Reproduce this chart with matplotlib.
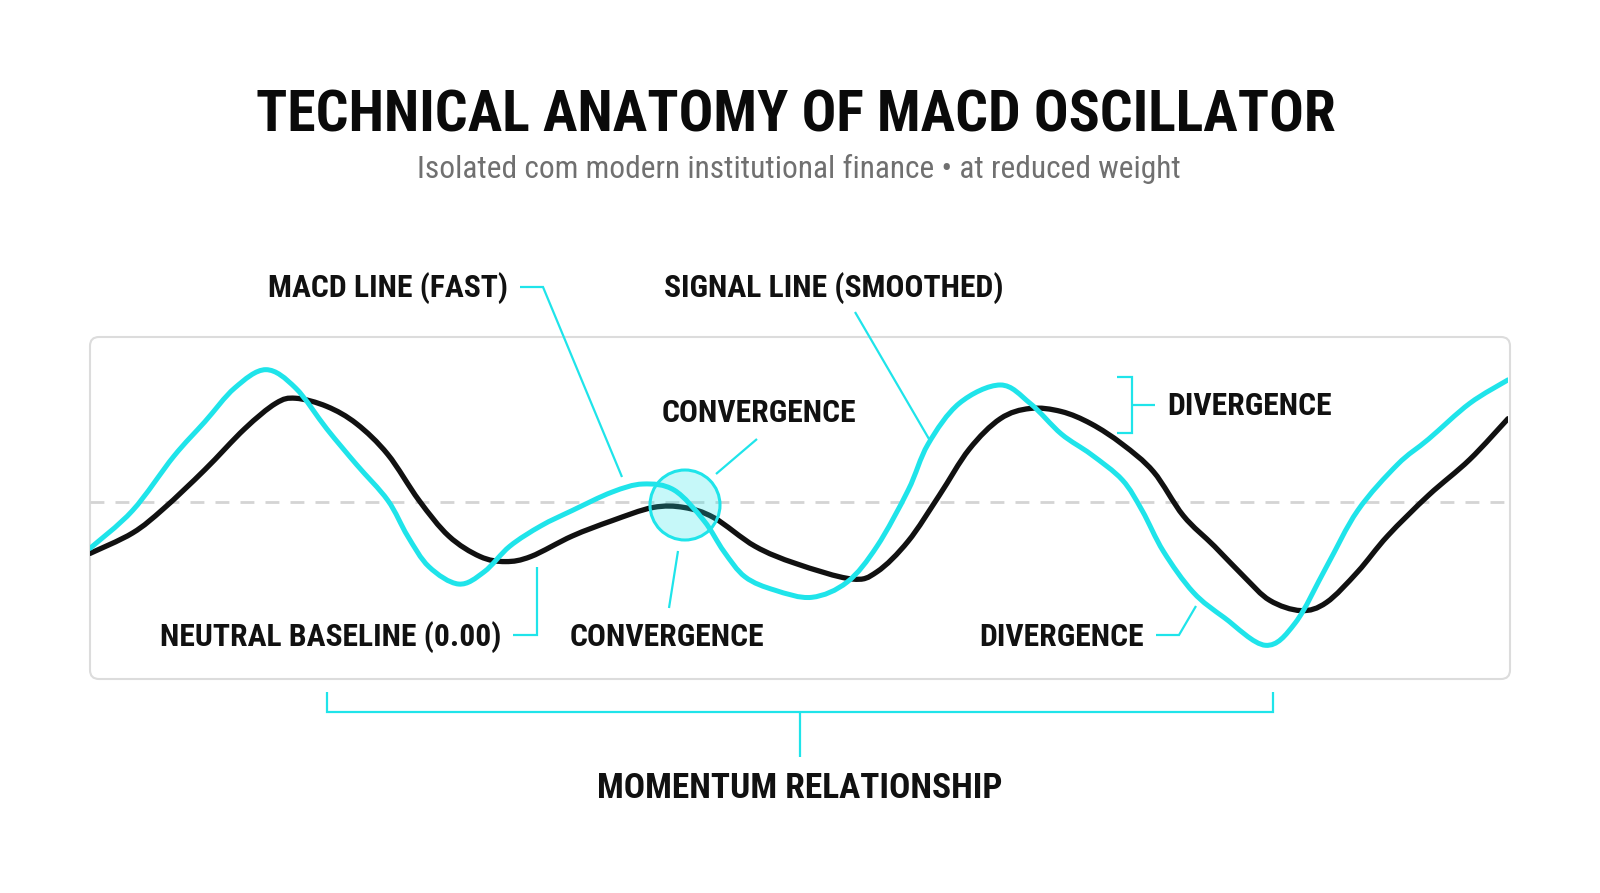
import numpy as np
import matplotlib
matplotlib.use("Agg")
import matplotlib.pyplot as plt
from matplotlib import font_manager as fm
from matplotlib.path import Path
from matplotlib.patches import PathPatch, FancyBboxPatch, Circle

# ---------------- data ----------------
t_macd = [0, 3.0, 5.9, 8.1, 10.2, 12.4, 14.5, 16.7, 18.8, 21.0, 22.4, 23.9, 26.0, 27.8,
          29.6, 31.8, 34.0, 36.8, 39.0, 41.2, 43.3, 44.7, 46.2, 48.3, 50.9, 53.4, 55.5,
          57.7, 59.1, 61.3, 64.2, 66.3, 68.5, 70.6, 72.8, 74.2, 75.7, 77.8, 80.0, 82.9,
          85.0, 87.2, 89.4, 92.2, 94.4, 97.3, 100]
v_macd = [-0.45, -0.08, 0.45, 0.79, 1.12, 1.30, 1.12, 0.72, 0.37, 0.02, -0.33, -0.63,
          -0.80, -0.68, -0.43, -0.23, -0.08, 0.10, 0.18, 0.12, -0.18, -0.48, -0.73, -0.86,
          -0.93, -0.78, -0.43, 0.12, 0.57, 0.97, 1.15, 0.97, 0.67, 0.47, 0.22, -0.08,
          -0.48, -0.88, -1.13, -1.40, -1.18, -0.63, -0.08, 0.37, 0.62, 0.97, 1.20]

t_signal = [0, 3.0, 5.2, 8.1, 10.9, 13.1, 14.5, 16.7, 18.8, 21.0, 23.2, 25.3, 27.5, 29.3,
            31.1, 34.0, 36.8, 39.7, 41.9, 44.0, 46.9, 49.8, 53.7, 55.5, 57.7, 59.9, 62.0,
            64.2, 66.3, 68.5, 70.6, 72.8, 75.0, 77.1, 79.3, 81.4, 83.2, 85.4, 87.2, 89.4,
            91.5, 94.4, 97.3, 100]
v_signal = [-0.50, -0.30, -0.06, 0.32, 0.72, 0.97, 1.02, 0.94, 0.77, 0.47, 0.02, -0.33,
            -0.53, -0.58, -0.53, -0.33, -0.18, -0.05, -0.05, -0.15, -0.43, -0.60, -0.75,
            -0.68, -0.38, 0.07, 0.52, 0.82, 0.92, 0.89, 0.77, 0.57, 0.30, -0.13, -0.43,
            -0.73, -0.96, -1.06, -0.98, -0.68, -0.33, 0.07, 0.42, 0.82]

baseline_value = 0.0

title = "TECHNICAL ANATOMY OF MACD OSCILLATOR"
subtitle = "Isolated com modern institutional finance \u2022 at reduced weight"
label_macd = "MACD LINE (FAST)"
label_signal = "SIGNAL LINE (SMOOTHED)"
label_conv = "CONVERGENCE"
label_base = "NEUTRAL BASELINE (0.00)"
label_div = "DIVERGENCE"
label_momentum = "MOMENTUM RELATIONSHIP"

# ---------------- style ----------------
CYAN = "#1FE4EA"
BLACK = "#111111"
names = {f.name for f in fm.fontManager.ttflist}
COND = "Roboto Condensed" if "Roboto Condensed" in names else "Roboto"
FAM = [COND, "DejaVu Sans"]

W, H = 1600, 893
fig = plt.figure(figsize=(W / 100, H / 100), dpi=100)
fig.patch.set_facecolor("white")

# background overlay (pixel coordinates)
bg = fig.add_axes([0, 0, 1, 1], zorder=0)
bg.set_xlim(0, W); bg.set_ylim(H, 0); bg.axis("off")
PX0, PX1, PY0, PY1 = 90, 1510, 337, 679
bg.add_patch(FancyBboxPatch((PX0, PY0), PX1 - PX0, PY1 - PY0,
                            boxstyle="round,pad=0,rounding_size=9",
                            fc="white", ec="#DCDCDC", lw=1.5))

# data axes
ax = fig.add_axes([90 / W, 1 - 679 / H, (1508 - 90) / W, (679 - 337) / H], zorder=1)
ax.patch.set_alpha(0)
ax.set_xlim(0, 100)
ax.set_ylim(-1.73, 1.62)
ax.axis("off")


def smooth_path(x, y):
    x = np.asarray(x, float); y = np.asarray(y, float)
    verts = [(x[0], y[0])]
    codes = [Path.MOVETO]
    n = len(x)
    for i in range(n - 1):
        p0 = (x[max(i - 1, 0)], y[max(i - 1, 0)])
        p1 = (x[i], y[i]); p2 = (x[i + 1], y[i + 1])
        p3 = (x[min(i + 2, n - 1)], y[min(i + 2, n - 1)])
        c1 = (p1[0] + (p2[0] - p0[0]) / 6, p1[1] + (p2[1] - p0[1]) / 6)
        c2 = (p2[0] - (p3[0] - p1[0]) / 6, p2[1] - (p3[1] - p1[1]) / 6)
        verts += [c1, c2, p2]
        codes += [Path.CURVE4] * 3
    return Path(verts, codes)


ax.axhline(baseline_value, color="#D4D4D4", lw=2, dashes=(5, 4), zorder=1)
ax.add_patch(PathPatch(smooth_path(t_signal, v_signal), fc="none", ec=BLACK, lw=3.8,
                       capstyle="round", joinstyle="round", zorder=2))
ax.add_patch(PathPatch(smooth_path(t_macd, v_macd), fc="none", ec=CYAN, lw=3.6,
                       capstyle="round", joinstyle="round", zorder=3))

# foreground overlay (pixel coordinates)
fg = fig.add_axes([0, 0, 1, 1], zorder=2)
fg.patch.set_alpha(0)
fg.set_xlim(0, W); fg.set_ylim(H, 0); fg.axis("off")

fg.add_patch(Circle((685, 505), 35, fc=CYAN, alpha=0.25, ec="none"))
fg.add_patch(Circle((685, 505), 35, fc="none", ec=CYAN, lw=2.2))

LW = 1.6


def leader(xs, ys):
    fg.plot(xs, ys, color=CYAN, lw=LW, solid_capstyle="butt", solid_joinstyle="miter")


leader([520, 543, 622], [287, 287, 477])
leader([855, 929], [312, 439])
leader([757, 716], [439, 474])
leader([669, 678], [608, 551])
leader([513, 537, 537], [635, 635, 567])
leader([1156, 1179, 1196], [635, 635, 606])
# right bracket
leader([1117, 1132, 1132, 1117], [377, 377, 433, 433])
leader([1132, 1155], [405, 405])
# bottom bracket
leader([327, 327, 1273, 1273], [692, 712, 712, 692])
leader([800, 800], [712, 757])

# texts
fg.text(796, 132, title, ha="center", va="baseline", fontsize=41.5, fontweight="bold",
        family=FAM, color="#0A0A0A")
fg.text(799, 178, subtitle, ha="center", va="baseline", fontsize=22.7, fontweight="normal",
        family=FAM, color="#707070")

LS = 22.8
kw = dict(va="baseline", fontweight="bold", family=FAM, color="#111111")
fg.text(508, 297, label_macd, ha="right", fontsize=LS, **kw)
fg.text(664, 297, label_signal, ha="left", fontsize=LS, **kw)
fg.text(662, 422, label_conv, ha="left", fontsize=LS, **kw)
fg.text(570, 646, label_conv, ha="left", fontsize=LS, **kw)
fg.text(501, 646, label_base, ha="right", fontsize=LS, **kw)
fg.text(1167, 415, label_div, ha="left", fontsize=LS, **kw)
fg.text(979, 646, label_div, ha="left", fontsize=LS, **kw)
fg.text(800, 798, label_momentum, ha="center", fontsize=25.5, **kw)

fig.savefig("out.png", dpi=100, facecolor="white")
